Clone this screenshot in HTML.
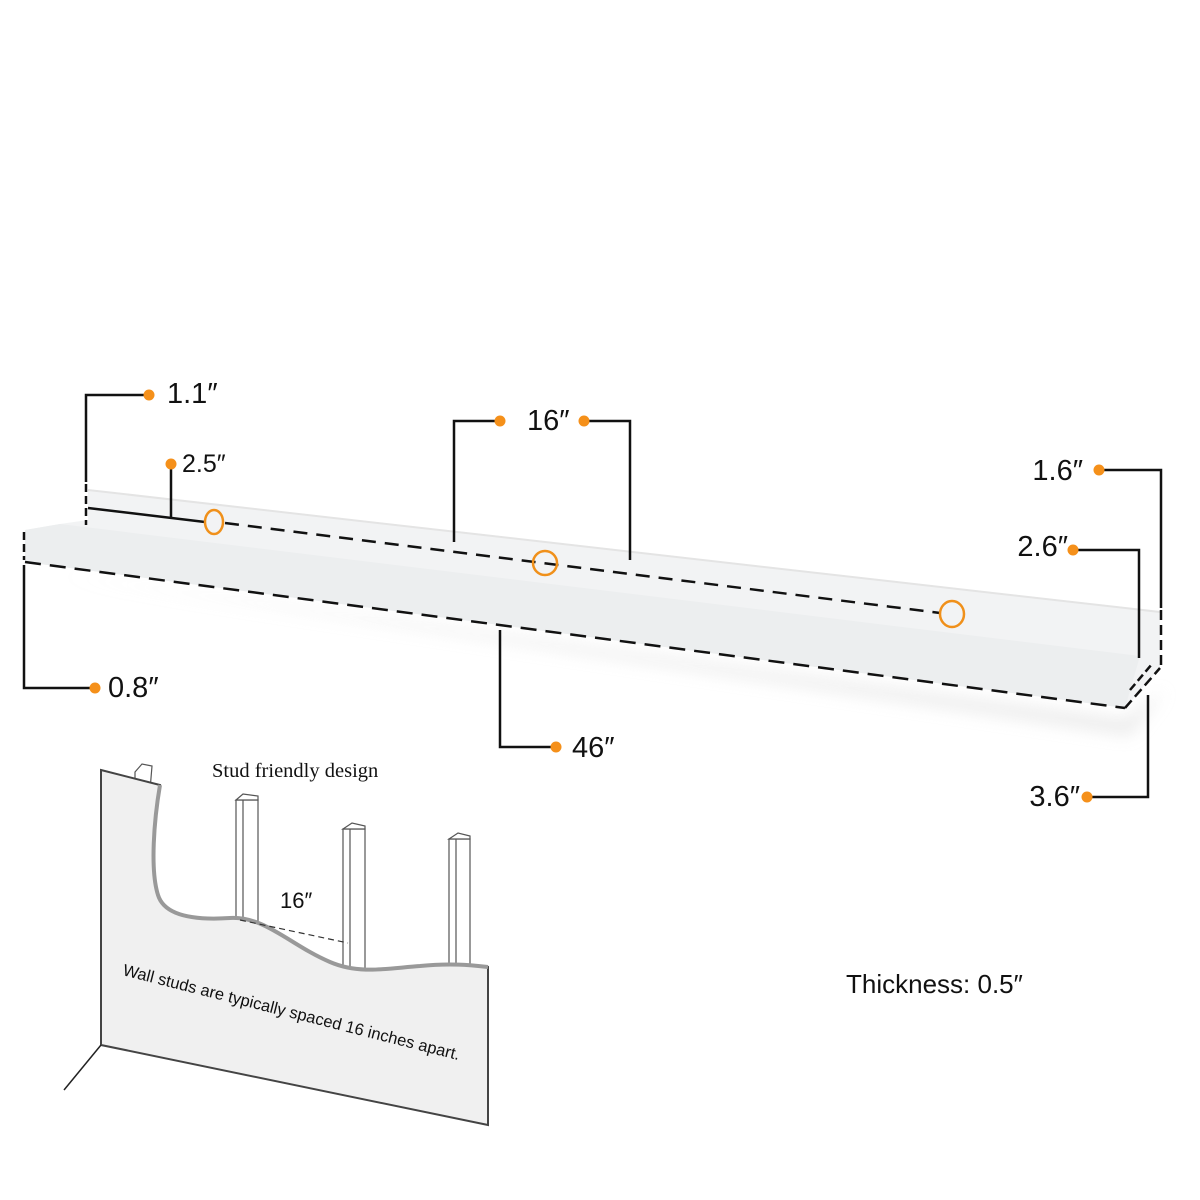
<!DOCTYPE html>
<html><head><style>body{margin:0;background:#fff}svg{display:block}</style></head><body>
<svg width="1200" height="1200" viewBox="0 0 1200 1200" xmlns="http://www.w3.org/2000/svg" font-family="Liberation Sans, sans-serif">
<defs><filter id="sh" x="-10%" y="-50%" width="120%" height="200%"><feGaussianBlur stdDeviation="8"/></filter></defs>
<polygon points="60,575 1125,720 1165,690 1130,735" fill="#ddd" filter="url(#sh)" opacity="0.6"/>
<polygon points="88,490 1160,612 1160,668 1125,708 25,562 25,530 60,524 88,520" fill="#f2f3f4"/>
<polygon points="25,530 60,524 1140,656 1125,708 25,562" fill="#eceeef"/>
<polyline points="88,490 1160,612" stroke="#e4e4e4" stroke-width="2" fill="none"/>
<g stroke="#111" stroke-width="2.5" fill="none">
<line x1="225" y1="523" x2="940" y2="613" stroke-dasharray="14,9"/>
<line x1="25" y1="562" x2="1125" y2="708" stroke-dasharray="16,9"/>
<line x1="1125" y1="708" x2="1160" y2="668" stroke-dasharray="10,5"/>
<line x1="1130" y1="690" x2="1152" y2="664" stroke-dasharray="8,4"/>
<line x1="24" y1="532" x2="24" y2="560" stroke-dasharray="8,4"/>
<line x1="86" y1="484" x2="86" y2="525" stroke-dasharray="8,4"/>
<line x1="1161" y1="610" x2="1161" y2="668" stroke-dasharray="10,5"/>
<line x1="88" y1="508" x2="205" y2="522"/>
<line x1="171" y1="464" x2="171" y2="517"/>
<polyline points="149,395 86,395 86,482"/>
<polyline points="500,421 454,421 454,542"/>
<polyline points="584,421 630,421 630,560"/>
<polyline points="24,565 24,688 95,688"/>
<polyline points="500,630 500,747 556,747"/>
<polyline points="1099,470 1161,470 1161,608"/>
<polyline points="1073,550 1139,550 1139,658"/>
<polyline points="1087,797 1148,797 1148,695"/>
</g>
<g fill="none" stroke="#f0901a" stroke-width="2.5">
<ellipse cx="214" cy="522" rx="9" ry="12"/>
<ellipse cx="545" cy="563" rx="12" ry="12"/>
<ellipse cx="952" cy="614" rx="12" ry="13"/>
</g>
<g fill="#f5901a">
<circle cx="149" cy="395" r="5.5"/><circle cx="171" cy="464" r="5.5"/><circle cx="500" cy="421" r="5.5"/><circle cx="584" cy="421" r="5.5"/>
<circle cx="95" cy="688" r="5.5"/><circle cx="556" cy="747" r="5.5"/><circle cx="1099" cy="470" r="5.5"/><circle cx="1073" cy="550" r="5.5"/><circle cx="1087" cy="797" r="5.5"/>
</g>
<g fill="#111" font-size="29">
<text x="167" y="403">1.1″</text>
<text x="182" y="472" font-size="25">2.5″</text>
<text x="527" y="430">16″</text>
<text x="108" y="697">0.8″</text>
<text x="572" y="757">46″</text>
<text x="1083" y="480" text-anchor="end">1.6″</text>
<text x="1068" y="556" text-anchor="end">2.6″</text>
<text x="1080" y="806" text-anchor="end">3.6″</text>
<text x="846" y="993" font-size="26">Thickness: 0.5″</text>
</g>
<!-- wall -->
<g stroke="#555" stroke-width="1.2" fill="#fff">
<polygon points="135,772 142,764 152,766 150,790 135,790"/>
<rect x="236" y="800" width="22" height="135"/><line x1="243" y1="800" x2="243" y2="935"/><polygon points="236,800 243,794 258,796 258,800"/>
<rect x="343" y="829" width="22" height="145"/><line x1="350" y1="829" x2="350" y2="974"/><polygon points="343,829 352,823 365,826 365,829"/>
<rect x="449" y="839" width="21" height="135"/><line x1="456" y1="839" x2="456" y2="974"/><polygon points="449,839 458,833 470,836 470,839"/>
</g>
<path d="M101,770 L160,785 C154,820 150,870 158,895 C165,918 200,920 230,918 C265,916 290,945 330,962 C360,975 390,968 420,966 C450,963 470,965 488,967 L488,1125 L101,1045 Z" fill="#f0f0f0" stroke="#444" stroke-width="2"/>
<path d="M160,785 C154,820 150,870 158,895 C165,918 200,920 230,918 C265,916 290,945 330,962 C360,975 390,968 420,966 C450,963 470,965 488,967" fill="none" stroke="#999" stroke-width="4"/>
<line x1="101" y1="1045" x2="64" y2="1090" stroke="#222" stroke-width="1.5"/>
<line x1="240" y1="920" x2="348" y2="943" stroke="#333" stroke-width="1.2" stroke-dasharray="6,4"/>
<text x="212" y="777" font-family="Liberation Serif, serif" font-size="20.5" fill="#111">Stud friendly design</text>
<text x="280" y="908" font-size="22" fill="#111">16″</text>
<text x="122" y="975" font-size="16.5" fill="#111" transform="rotate(14.2 122 975)">Wall studs are typically spaced 16 inches apart.</text>
</svg>
</body></html>
